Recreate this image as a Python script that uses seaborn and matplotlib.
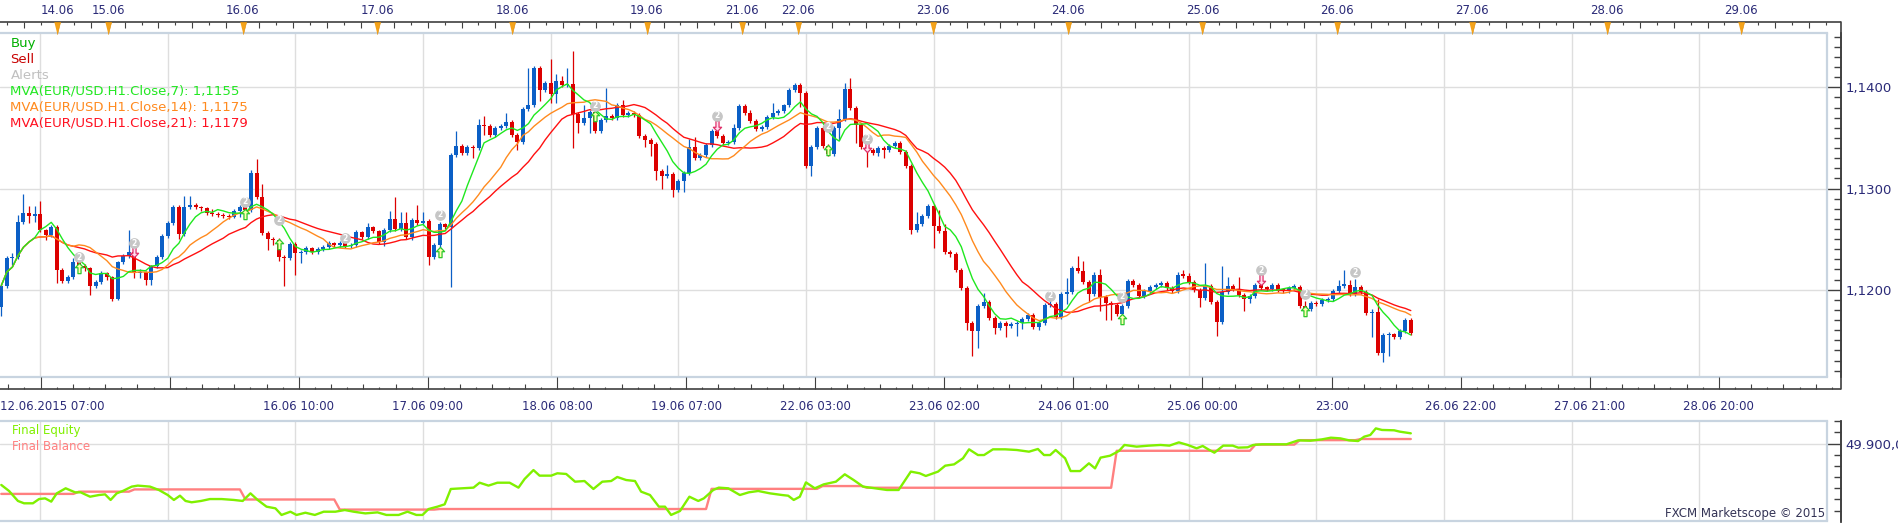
import numpy as np
import pandas as pd
import seaborn as sns
import matplotlib.pyplot as plt
from matplotlib.ticker import FixedLocator, MultipleLocator, FuncFormatter

# EUR/USD H1 bars, prices in pips above 1.1200 (each bar opens at the previous close)
base = 1.12
first_open = -17
closes = [4, 31, 32, 67, 76, 73, 75, 59, 54, 62,
          19, 9, 13, 27, 23, 21, 4, 8, 16, 13,
          -9, 27, 33, 37, 16, 17, 10, 23, 32, 53,
          66, 82, 55, 82, 84, 82, 81, 76, 75, 74,
          73, 72, 78, 82, 79, 115, 92, 56, 50, 49,
          32, 31, 45, 36, 37, 41, 37, 40, 42, 46,
          44, 46, 43, 44, 57, 52, 62, 58, 47, 59,
          70, 60, 66, 52, 69, 66, 68, 32, 44, 65,
          62, 133, 142, 135, 141, 140, 163, 162, 153, 160,
          162, 166, 153, 146, 179, 183, 219, 197, 204, 193,
          206, 202, 203, 174, 165, 170, 176, 157, 168, 172,
          170, 183, 173, 175, 173, 152, 148, 144, 117, 112,
          114, 99, 107, 115, 141, 130, 133, 143, 157, 152,
          145, 146, 160, 182, 175, 167, 159, 161, 171, 175,
          177, 183, 197, 202, 194, 122, 141, 160, 142, 134,
          160, 169, 198, 180, 163, 141, 138, 135, 140, 138,
          142, 145, 136, 122, 59, 65, 73, 83, 63, 58,
          37, 35, 19, 2, -33, -41, -16, -12, -28, -38,
          -33, -36, -34, -33, -29, -25, -37, -33, -15, -14,
          -27, -4, -2, 21, 18, 8, -4, 15, -7, -13,
          -15, -24, -16, 9, 5, -6, -1, 3, 5, 7,
          2, -1, 15, 14, 8, 0, -8, 4, -12, -32,
          -2, 4, 1, -5, -9, -6, 5, 2, 1, 5,
          0, -1, 2, 3, -16, -19, -13, -14, -10, -9,
          -1, 4, 5, -4, 3, -2, -23, -22, -63, -45,
          -44, -47, -41, -30, -43]
highs = [6, 33, 36, 74, 95, 83, 83, 88, 60, 64,
         64, 21, 15, 31, 30, 25, 22, 10, 18, 17,
         14, 28, 35, 59, 39, 20, 18, 24, 34, 55,
         68, 84, 84, 93, 93, 86, 83, 82, 80, 77,
         76, 75, 80, 84, 84, 118, 129, 104, 58, 52,
         51, 34, 47, 47, 39, 43, 42, 42, 44, 48,
         47, 48, 47, 46, 59, 58, 66, 63, 59, 61,
         78, 92, 77, 77, 71, 84, 77, 70, 46, 67,
         66, 135, 157, 144, 143, 143, 169, 172, 164, 162,
         164, 175, 168, 155, 181, 219, 221, 221, 206, 228,
         213, 211, 219, 236, 176, 183, 178, 185, 170, 199,
         174, 185, 187, 177, 177, 175, 154, 150, 146, 119,
         123, 116, 109, 117, 149, 151, 135, 145, 159, 159,
         154, 148, 164, 184, 184, 178, 169, 163, 173, 185,
         179, 184, 199, 204, 204, 196, 143, 162, 162, 144,
         162, 179, 204, 209, 182, 165, 143, 140, 142, 142,
         144, 147, 147, 138, 124, 77, 75, 85, 85, 79,
         65, 39, 37, 21, 4, -31, -14, -3, -10, -26,
         -31, -31, -32, -31, -27, -23, -23, -31, -13, -7,
         -12, -2, 12, 23, 33, 28, 10, 17, 20, -5,
         -11, -13, -14, 11, 11, 7, 1, 5, 7, 9,
         9, 4, 17, 19, 16, 10, 2, 26, 6, -10,
         23, 13, 6, 13, -3, -4, 7, 7, 4, 7,
         7, 2, 4, 6, 5, -11, -11, -11, -8, -7,
         1, 10, 19, 10, 11, 5, 0, -19, -9, -43,
         -42, -43, -39, -28, -28]
lows = [-26, 2, 24, 30, 65, 66, 67, 57, 49, 52,
        7, 7, 7, 11, 18, 18, -5, 2, 6, 10,
        -11, -10, 25, 31, 12, 12, 5, 5, 21, 30,
        51, 64, 50, 53, 80, 80, 78, 74, 73, 72,
        71, 70, 71, 72, 73, 77, 90, 54, 39, 44,
        28, 4, 29, 15, 26, 35, 35, 35, 38, 40,
        42, 42, 41, 41, 42, 50, 50, 56, 45, 43,
        57, 58, 58, 50, 49, 64, 64, 24, 30, 42,
        60, 3, 131, 133, 133, 130, 138, 153, 151, 151,
        158, 160, 151, 138, 144, 177, 181, 186, 195, 185,
        185, 200, 200, 140, 155, 163, 155, 155, 155, 166,
        168, 168, 171, 171, 171, 150, 141, 132, 108, 100,
        110, 92, 97, 97, 113, 128, 128, 131, 141, 150,
        143, 143, 144, 158, 173, 165, 157, 157, 159, 169,
        173, 175, 181, 195, 181, 120, 112, 139, 140, 132,
        132, 148, 167, 178, 145, 139, 121, 133, 132, 130,
        136, 140, 134, 120, 55, 57, 63, 71, 41, 56,
        35, 32, 17, 0, -40, -66, -58, -18, -30, -44,
        -40, -47, -38, -46, -39, -31, -39, -40, -35, -17,
        -29, -29, -14, -4, 16, 6, -12, -6, -21, -30,
        -30, -26, -26, -18, 3, -8, -8, -3, 1, 3,
        0, -3, -3, 12, 6, -2, -17, -10, -14, -46,
        -34, -4, -1, -7, -21, -13, -8, 0, -1, -1,
        -2, -3, -3, 0, -18, -21, -21, -16, -16, -12,
        -11, -3, 2, -6, -6, -4, -25, -47, -65, -71,
        -66, -49, -49, -43, -45]

# top ruler: day markers (bar positions)
day_pos = [10, 19, 43, 67, 91, 115, 132, 142, 166, 190, 214, 238, 262, 286, 310]
day_labels = ['14.06', '15.06', '16.06', '17.06', '18.06', '19.06', '21.06', '22.06',
              '23.06', '24.06', '25.06', '26.06', '27.06', '28.06', '29.06']

# bottom time axis: one label every 23 bars, starting at bar 7
time_labels = ['12.06.2015 07:00', '', '16.06 10:00', '17.06 09:00', '18.06 08:00',
               '19.06 07:00', '22.06 03:00', '23.06 02:00', '24.06 01:00', '25.06 00:00',
               '23:00', '26.06 22:00', '27.06 21:00', '28.06 20:00']

# alerts and trade arrows (bar, pips above 1.1200)
alert_pos = [14, 24, 44, 50, 62, 79, 107, 129, 149, 156, 189, 202, 227, 235, 244]
alert_pips = [32, 46, 87, 69, 51, 74, 182, 172, 161, 149, -6, -7, 19, -4, 17]
buy_pos = [14, 44, 50, 79, 107, 149, 202, 235]
buy_pips = [21, 75, 45, 37, 172, 138, -29, -21]
sell_pos = [24, 129, 156, 227]
sell_pips = [37, 162, 141, 10]

# equity curve (bar, account value)
eq_pos = [0, 1.4, 3.0, 4.1, 5.7, 6.8, 7.9, 9.0, 10.0, 11.6,
          13.3, 14.3, 16.0, 17.6, 18.7, 19.7, 20.8, 21.9, 23.5, 24.6,
          26.8, 28.4, 30.0, 31.1, 32.2, 33.2, 34.3, 36.0, 37.6, 39.7,
          41.9, 43.5, 44.9, 46.2, 47.8, 49.4, 50.5, 52.1, 53.2, 54.8,
          56.5, 58.1, 60.2, 61.9, 63.5, 65.6, 67.8, 69.4, 71.6, 73.2,
          74.8, 75.9, 77.0, 78.6, 79.9, 81.0, 82.9, 85.1, 86.2, 87.8,
          89.4, 91.6, 93.2, 94.3, 95.9, 97.0, 99.1, 100.2, 101.8, 103.4,
          105.1, 106.7, 108.3, 109.9, 111.0, 112.6, 114.2, 115.3, 116.9, 118.5,
          119.6, 120.7, 122.3, 124.0, 125.6, 126.6, 128.3, 129.3, 131.0, 133.1,
          134.7, 136.4, 138.5, 140.7, 141.8, 142.8, 143.9, 145.0, 146.6, 148.2,
          150.4, 152.0, 153.6, 155.3, 157.4, 159.6, 161.7, 163.9, 165.5, 166.6,
          168.8, 170.1, 171.7, 173.3, 174.4, 176.0, 177.1, 178.7, 180.9, 183.0,
          185.2, 186.8, 187.9, 189.0, 190.0, 191.7, 192.7, 194.4, 196.0, 197.1,
          198.1, 199.8, 201.4, 202.4, 204.6, 206.8, 208.9, 210.5, 212.2, 213.8,
          215.4, 216.5, 217.5, 218.6, 220.2, 221.9, 222.9, 224.6, 225.6, 227.2,
          229.4, 231.6, 233.7, 235.9, 238.0, 239.6, 241.3, 242.9, 244.5, 245.6,
          246.7, 247.7, 248.8, 251.0, 252.0, 254.0]
eq_val = [49863.0, 49857.6, 49848.7, 49846.6, 49846.6, 49850.4, 49851.0, 49848.1, 49855.5, 49860.0,
          49856.4, 49856.4, 49852.5, 49854.0, 49854.6, 49849.6, 49855.5, 49857.6, 49861.5, 49862.4,
          49861.5, 49858.5, 49854.0, 49849.6, 49853.4, 49848.7, 49847.5, 49848.7, 49850.4, 49850.4,
          49849.6, 49848.7, 49855.5, 49849.6, 49843.6, 49842.1, 49836.2, 49839.1, 49836.2, 49838.2,
          49836.2, 49839.1, 49839.1, 49840.6, 49839.1, 49837.6, 49838.5, 49836.2, 49836.2, 49839.1,
          49836.2, 49836.2, 49841.5, 49843.6, 49845.7, 49859.4, 49860.0, 49860.6, 49865.0, 49862.4,
          49865.0, 49865.0, 49860.6, 49868.3, 49876.3, 49871.3, 49871.3, 49873.4, 49872.8, 49865.9,
          49866.5, 49859.4, 49865.9, 49866.5, 49870.1, 49867.4, 49866.5, 49857.0, 49854.0, 49843.6,
          49843.6, 49836.2, 49839.7, 49852.5, 49848.7, 49851.0, 49858.5, 49860.6, 49860.0, 49854.0,
          49856.4, 49857.6, 49855.5, 49854.0, 49853.4, 49849.6, 49852.5, 49865.3, 49860.0, 49863.5,
          49865.9, 49872.5, 49867.4, 49861.5, 49860.0, 49858.5, 49858.5, 49874.9, 49873.4, 49871.0,
          49874.9, 49880.2, 49881.4, 49886.8, 49894.8, 49889.7, 49889.7, 49894.8, 49894.8, 49894.2,
          49892.7, 49895.1, 49889.7, 49889.7, 49894.2, 49886.8, 49875.4, 49875.4, 49882.3, 49877.8,
          49887.4, 49889.1, 49893.3, 49898.7, 49897.2, 49898.1, 49898.7, 49898.1, 49901.0, 49898.7,
          49895.7, 49897.8, 49894.8, 49891.8, 49898.1, 49898.1, 49896.3, 49896.6, 49898.7, 49899.3,
          49899.3, 49899.3, 49902.8, 49902.5, 49903.7, 49905.2, 49904.6, 49902.8, 49902.2, 49906.1,
          49907.6, 49913.5, 49912.1, 49911.8, 49910.6, 49909.1]
# balance: level set from each start bar on
bal_start = [0, 14, 24, 44, 61, 79, 128, 148, 156, 201, 226, 234, 245]
bal_level = [49855, 49857, 49859, 49850, 49841, 49841.5, 49859.5, 49862, 49860.5,
             49893.5, 49899, 49903, 49904]

# ---- derived series
bars = np.arange(len(closes))
c = base + np.array(closes) / 1e4
o = base + np.array([first_open] + closes[:-1]) / 1e4
h = base + np.array(highs) / 1e4
l = base + np.array(lows) / 1e4
close_s = pd.Series(c)
ma7 = close_s.rolling(7, min_periods=1).mean().values
ma14 = close_s.rolling(14, min_periods=1).mean().values
ma21 = close_s.rolling(21, min_periods=1).mean().values
balance = np.repeat(bal_level, np.diff(bal_start + [len(closes)]))

# ---- style
sns.set_style('white')
plt.rcParams['font.family'] = ['DejaVu Sans']

UP, DOWN = '#0B5FC6', '#DC0000'
NAVY = '#2B2B78'
AXC = '#404040'
BORDER = '#C8D4E0'
GRID = '#DEDEDE'

W, H = 1899, 523
fig = plt.figure(figsize=(W / 100, H / 100), dpi=100)
fig.patch.set_facecolor('white')


def rect(x0, y0, x1, y1):
    return [x0 / W, 1 - y1 / H, (x1 - x0) / W, (y1 - y0) / H]


def bar_at(px):
    return (px - 1.3) / 5.613


xl = (bar_at(0), bar_at(1827))
grid_pos = 7 + 23 * np.arange(15)
out_pt = 14 * 0.72


def style_panel(a):
    a.set_xlim(*xl)
    a.set_xticks(grid_pos)
    a.tick_params(axis='x', length=0, labelbottom=False)
    a.grid(True, color=GRID, lw=1.0)
    a.set_axisbelow(True)
    a.spines['left'].set_visible(False)
    for s in ('top', 'bottom'):
        a.spines[s].set_color(BORDER)
        a.spines[s].set_linewidth(1.6)
    a.spines['right'].set_position(('outward', out_pt))
    a.spines['right'].set_color(AXC)
    a.spines['right'].set_linewidth(1.2)
    a.plot([1, 1], [0, 1], transform=a.transAxes, color=BORDER, lw=1.6, clip_on=False)
    a.yaxis.tick_right()
    a.tick_params(axis='y', which='major', direction='in', length=out_pt, width=1.0,
                  color=AXC, pad=3, labelsize=9.5, labelcolor=NAVY)
    a.tick_params(axis='y', which='minor', direction='in', length=5, width=1.0, color=AXC)


# ---- price panel
ax = fig.add_axes(rect(0, 33, 1827, 377))
style_panel(ax)
ax.set_ylim(1.11137, 1.14537)
ax.yaxis.set_major_locator(FixedLocator([1.12, 1.13, 1.14]))
ax.yaxis.set_minor_locator(MultipleLocator(0.001))
ax.yaxis.set_major_formatter(FuncFormatter(lambda v, p: f'{v:.4f}'.replace('.', ',')))

cols = np.where(c >= o, UP, DOWN)
ax.vlines(bars, l, h, colors=cols, lw=0.9, zorder=2)
body_lo = np.minimum(o, c)
body_h = np.maximum(np.abs(c - o), 0.00012)
ax.bar(bars, body_h, bottom=body_lo, width=0.72, color=cols, linewidth=0, zorder=2)

sns.lineplot(x=bars, y=ma21, ax=ax, color='#FF1010', lw=1.0, zorder=4)
sns.lineplot(x=bars, y=ma14, ax=ax, color='#FF8A1E', lw=1.0, zorder=4)
sns.lineplot(x=bars, y=ma7, ax=ax, color='#1FE81F', lw=1.0, zorder=4)
ax.set_xlabel('')
ax.set_ylabel('')

arrow = [(0, 1), (0.8, 0.15), (0.3, 0.15), (0.3, -1), (-0.3, -1), (-0.3, 0.15), (-0.8, 0.15), (0, 1)]
arrow_dn = [(x, -y) for x, y in arrow]
ax.scatter(buy_pos, base + np.array(buy_pips) / 1e4, marker=arrow, s=55,
           facecolors='#FFFFB0', edgecolors='#2CC82C', linewidths=0.9, zorder=6)
ax.scatter(sell_pos, base + np.array(sell_pips) / 1e4, marker=arrow_dn, s=55,
           facecolors='#FFE0F0', edgecolors='#E0306A', linewidths=0.9, zorder=6)
ay = base + np.array(alert_pips) / 1e4
ax.scatter(alert_pos, ay, s=60, c='#C6C6C6', linewidths=0, zorder=7)
for p, y in zip(alert_pos, ay):
    ax.text(p, y, '2', fontsize=5.5, color='white', fontweight='bold',
            ha='center', va='center', zorder=8)


def fmt(v):
    return f'{v:.4f}'.replace('.', ',')


legend = [('Buy', '#00B000'), ('Sell', '#C80000'), ('Alerts', '#C0C0C0'),
          (f'MVA(EUR/USD.H1.Close,7): {fmt(ma7[-1])}', '#22E822'),
          (f'MVA(EUR/USD.H1.Close,14): {fmt(ma14[-1])}', '#FF8A1E'),
          (f'MVA(EUR/USD.H1.Close,21): {fmt(ma21[-1])}', '#FF1020')]
for k, (txt, col) in enumerate(legend):
    fig.text(10.5 / W, 1 - (44 + 15.8 * k) / H, txt, color=col, fontsize=9.5, va='center')

# ---- equity panel
eax = fig.add_axes(rect(0, 421, 1827, 521))
style_panel(eax)
eax.set_ylim(49830.8, 49920.1)
eax.yaxis.set_major_locator(FixedLocator([49900]))
eax.yaxis.set_minor_locator(MultipleLocator(10))
eax.yaxis.set_major_formatter(FuncFormatter(
    lambda v, p: f'{v:,.1f}'.replace(',', 'X').replace('.', ',').replace('X', '.')))
eax.grid(True, axis='y', which='minor', lw=0)
sns.lineplot(x=bars, y=balance, ax=eax, color='#FF8080', lw=1.7, zorder=3)
sns.lineplot(x=eq_pos, y=eq_val, ax=eax, color='#80F000', lw=1.7, zorder=4)
eax.set_xlabel('')
eax.set_ylabel('')
fig.text(12 / W, 1 - 430.5 / H, 'Final Equity', color='#80F000', fontsize=8.5, va='center')
fig.text(12 / W, 1 - 447 / H, 'Final Balance', color='#FF8080', fontsize=8.5, va='center')
fig.text(1825 / W, 1 - 514 / H, 'FXCM Marketscope \u00a9 2015', color='#333355',
         fontsize=8.5, ha='right', va='center')

# ---- top day ruler
dax = fig.add_axes(rect(0, 0, 1827, 33))
dax.set_xlim(*xl)
dax.set_ylim(33, 0)
dax.axis('off')
dax.hlines(21.7, xl[0], bar_at(1841), color=AXC, lw=1.2, clip_on=False)
rt = np.arange(1, 328, 3)
dax.vlines(rt, 21.7, 21.7 + np.where((rt - 190) % 6 == 0, 6.0, 3.5), color=AXC, lw=0.8,
           clip_on=False)
tri = [(-0.5, 1), (0.5, 1), (0, -1)]
dax.scatter(day_pos, [27.6] * len(day_pos), marker=tri, s=80, c='#F5A31A',
            edgecolors='#E08A00', linewidths=0.4, zorder=5, clip_on=False)
for p, lab in zip(day_pos, day_labels):
    dax.text(p, 10.5, lab, ha='center', va='center', fontsize=8.5, color=NAVY)

# ---- bottom time axis
tax = fig.add_axes(rect(0, 377, 1827, 421))
tax.set_xlim(*xl)
tax.set_ylim(421, 377)
tax.axis('off')
tax.hlines(389.3, xl[0], bar_at(1841), color=AXC, lw=1.2, clip_on=False)
k = np.arange(-2, 115)
tk = 7 + 2.875 * k
tlen = np.where(k % 8 == 0, 12.3, np.where(k % 2 == 0, 5.0, 2.8))
keep = tk < bar_at(1841)
tax.vlines(tk[keep], 389.3 - tlen[keep], 389.3, color=AXC, lw=0.8, clip_on=False)
for n, lab in enumerate(time_labels):
    if n == 0:
        tax.text(xl[0], 407, lab, ha='left', va='center', fontsize=8.5, color=NAVY)
    elif lab:
        tax.text(grid_pos[n], 407, lab, ha='center', va='center', fontsize=8.5, color=NAVY)

# ---- right axis lines spanning the rulers
ov = fig.add_axes([0, 0, 1, 1])
ov.set_xlim(0, W)
ov.set_ylim(H, 0)
ov.axis('off')
ov.patch.set_alpha(0)
ov.plot([1841, 1841], [21.7, 389.3], color=AXC, lw=1.2)
ov.plot([1841, 1841], [421, 523], color=AXC, lw=1.2)

plt.savefig('out.png', dpi=100)
